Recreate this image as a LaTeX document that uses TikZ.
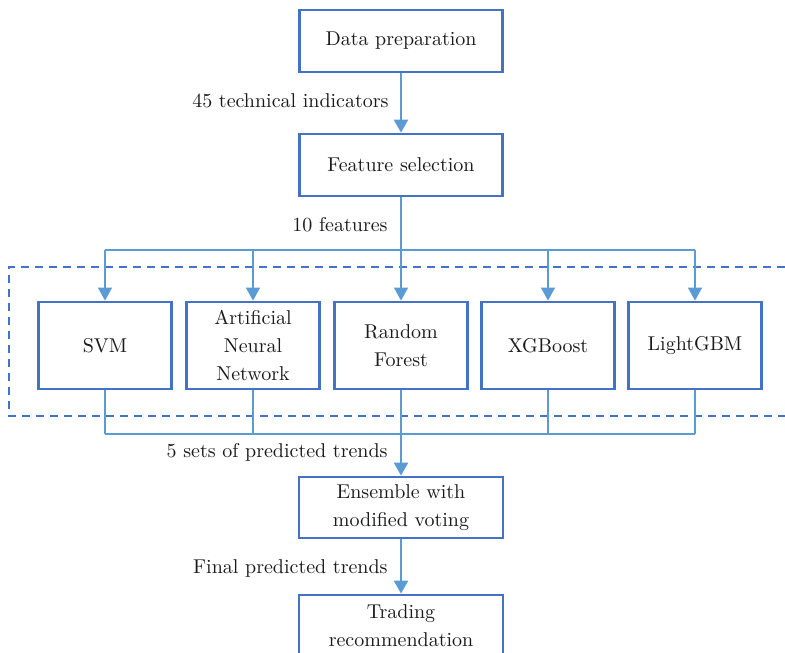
\documentclass[tikz,border=0pt]{standalone}
\usepackage{tikz}
\usetikzlibrary{arrows.meta,positioning,calc}
\definecolor{boxblue}{HTML}{4472C4}
\definecolor{lineblue}{HTML}{5B9BD5}
\definecolor{textdark}{HTML}{1A1A1A}

\begin{document}
\begin{tikzpicture}[
  x=0.5pt, y=-0.5pt,
  box/.style={rectangle, draw=boxblue, line width=1.4pt, fill=white, minimum width=#1,
              minimum height=31pt, font=\fontsize{10}{14}\selectfont, text=textdark,
              align=center, inner sep=2pt},
  box/.default=101.5pt,
  model/.style={box=66.5pt, minimum height=43.5pt},
  lbl/.style={font=\fontsize{10}{13}\selectfont, text=textdark, anchor=east, inner sep=0pt},
  main/.style={draw=lineblue, line width=1.1pt},
  branch/.style={draw=lineblue, line width=0.6pt},
  tip/.style={-{Triangle[length=6.5pt,width=7pt]}},
]
  \useasboundingbox (0,0) rectangle (785,652);

  % frame round the five models
  \draw[boxblue, line width=1pt, dash pattern=on 4pt off 3pt] (785,267) -| (9,416) -- (785,416);

  \node[box] (prep) at (401,41) {Data preparation};
  \node[box] (feat) at (401,165) {Feature selection};

  \node[model] (svm) at (105,345.5) {SVM};
  \node[model] (ann) at (253,345.5) {Artificial\\Neural\\Network};
  \node[model] (rf) at (401,345.5) {Random\\Forest};
  \node[model] (xgb) at (548,345.5) {XGBoost};
  \node[model] (lgbm) at (695,345.5) {LightGBM};

  \node[box=102pt, minimum height=30.5pt] (ens) at (401,507.5) {Ensemble with\\modified voting};
  \node[box=102pt, minimum height=30.5pt] (trade) at (401,625.5) {Trading\\recommendation};

  \coordinate (split) at (401,250);
  \coordinate (merge) at (401,434);

  \draw[main, tip] (prep) -- (feat);
  \draw[main] (feat) -- (split);
  \draw[branch] (split -| svm) -- (split -| lgbm);
  \foreach \m in {svm,ann,rf,xgb,lgbm}{
    \draw[branch, tip] (split -| \m) -- (\m);
    \draw[branch] (\m) -- (merge -| \m);
  }
  \draw[branch] (merge -| svm) -- (merge -| lgbm);
  \draw[main, tip] (merge) -- (ens);
  \draw[main, tip] (ens) -- (trade);

  \node[lbl] at (389,101) {45 technical indicators};
  \node[lbl] at (388,225) {10 features};
  \node[lbl] at (388,452) {5 sets of predicted trends};
  \node[lbl] at (388,568) {Final predicted trends};
\end{tikzpicture}
\end{document}
